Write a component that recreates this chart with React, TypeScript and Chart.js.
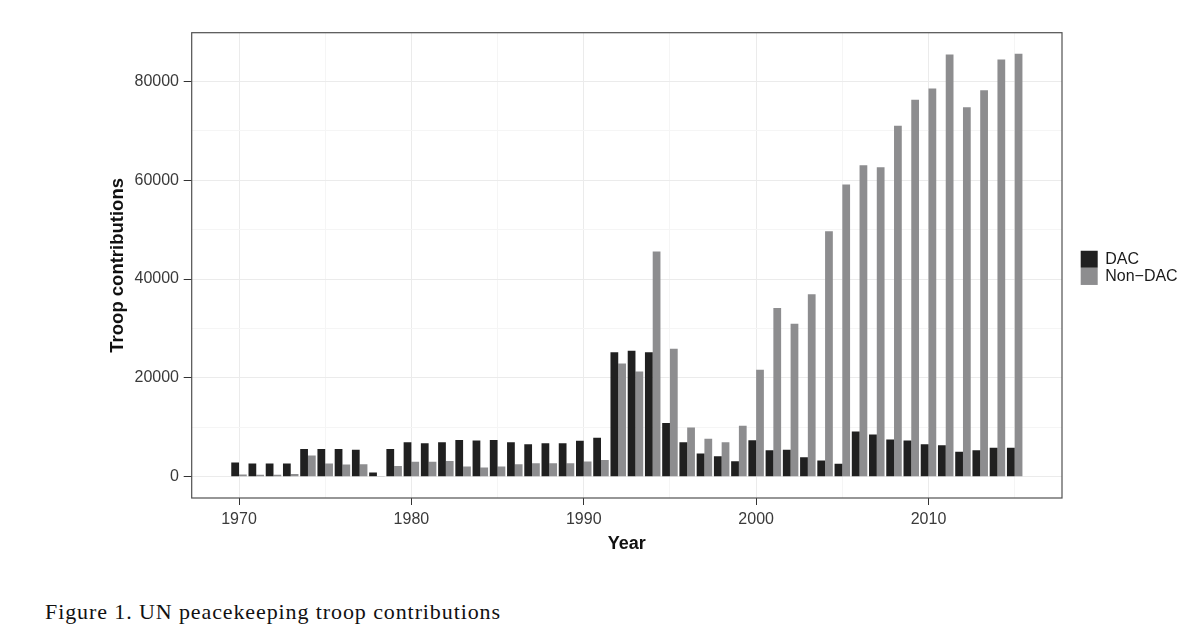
import React, { useEffect, useRef } from "react";
import { Chart, registerables } from "chart.js";

Chart.register(...registerables);

const years = [
  1970, 1971, 1972, 1973, 1974, 1975, 1976, 1977, 1978, 1979,
  1980, 1981, 1982, 1983, 1984, 1985, 1986, 1987, 1988, 1989,
  1990, 1991, 1992, 1993, 1994, 1995, 1996, 1997, 1998, 1999,
  2000, 2001, 2002, 2003, 2004, 2005, 2006, 2007, 2008, 2009,
  2010, 2011, 2012, 2013, 2014, 2015,
];

const dacTroops = [
  2900, 2700, 2700, 2700, 5650, 5650, 5650, 5500, 900, 5650,
  7000, 6800, 7000, 7450, 7350, 7450, 7000, 6600, 6800, 6800,
  7300, 7900, 25200, 25500, 25200, 10900, 7000, 4700, 4150, 3150,
  7400, 5400, 5500, 3950, 3300, 2650, 9150, 8550, 7550, 7350,
  6600, 6400, 5100, 5400, 5900, 5900,
];

const nonDacTroops = [
  500, 400, 400, 600, 4300, 2700, 2500, 2550, 150, 2200,
  3030, 3030, 3230, 2090, 1880, 2090, 2560, 2760, 2760, 2760,
  3100, 3400, 22900, 21300, 45600, 25900, 10000, 7700, 7000, 10350,
  21650, 34150, 30950, 36950, 49650, 59150, 63000, 62600, 71000, 76250,
  78550, 85400, 74750, 78200, 84400, 85550,
];

const seriesNames = ["DAC", "Non\u2212DAC"];
const seriesColors = ["#202020", "#8d8d8f"];

const xTickValues = [1970, 1975, 1980, 1985, 1990, 1995, 2000, 2005, 2010, 2015];
const xMajorTicks = [1970, 1980, 1990, 2000, 2010];
const yTickValues = [0, 10000, 20000, 30000, 40000, 50000, 60000, 70000, 80000];
const yMajorTicks = [0, 20000, 40000, 60000, 80000];

const xLimits = [1967.255, 2017.745];
const yLimits = [-4277.5, 89827.5];

const xTitle = "Year";
const yTitle = "Troop contributions";
const caption = "Figure 1. UN peacekeeping troop contributions";

const CANVAS_W = 1200;
const CANVAS_H = 560;

const framePlugin = {
  id: "panelFrame",
  afterDatasetsDraw(chart: any) {
    const { ctx, chartArea } = chart;
    ctx.save();
    ctx.strokeStyle = "#505050";
    ctx.lineWidth = 1.2;
    ctx.strokeRect(
      chartArea.left,
      chartArea.top,
      chartArea.right - chartArea.left,
      chartArea.bottom - chartArea.top
    );
    ctx.restore();
  },
};

const legendPlugin = {
  id: "sideLegend",
  afterDraw(chart: any) {
    const { ctx, chartArea } = chart;
    const cy = (chartArea.top + chartArea.bottom) / 2;
    const keyX = chartArea.right + 18.7;
    const key = 17;
    ctx.save();
    ctx.font = '16px "Liberation Sans", Arial, sans-serif';
    ctx.textBaseline = "middle";
    ctx.textAlign = "left";
    seriesNames.forEach((name, i) => {
      const top = cy - 14.6 + i * 17.2;
      ctx.fillStyle = seriesColors[i];
      ctx.fillRect(keyX, top, key, key);
      ctx.fillStyle = "#1a1a1a";
      ctx.fillText(name, keyX + key + 7.5, top + key / 2 + 0.5);
    });
    ctx.restore();
  },
};

export default function App() {
  const canvasRef = useRef<HTMLCanvasElement | null>(null);

  useEffect(() => {
    const canvas = canvasRef.current;
    if (!canvas) return;
    const chart = new Chart(canvas, {
      type: "bar",
      data: {
        datasets: [
          {
            label: seriesNames[0],
            data: years.map((yr, i) => ({ x: yr, y: dacTroops[i] })),
            backgroundColor: seriesColors[0],
            borderWidth: 0,
          },
          {
            label: seriesNames[1],
            data: years.map((yr, i) => ({ x: yr, y: nonDacTroops[i] })),
            backgroundColor: seriesColors[1],
            borderWidth: 0,
          },
        ],
      },
      options: {
        responsive: false,
        animation: false,
        events: [],
        categoryPercentage: 0.9,
        barPercentage: 1.0,
        layout: {
          padding: { top: 32.7, right: CANVAS_W - 1062, bottom: 0, left: 0 },
        },
        plugins: {
          legend: { display: false },
          tooltip: { enabled: false },
        },
        scales: {
          x: {
            type: "linear",
            min: xLimits[0],
            max: xLimits[1],
            offset: false,
            afterBuildTicks: (scale: any) => {
              scale.ticks = xTickValues.map((v) => ({ value: v }));
            },
            afterFit: (scale: any) => {
              scale.height = CANVAS_H - 498;
            },
            border: { display: false },
            grid: {
              offset: false,
              drawOnChartArea: true,
              drawTicks: true,
              tickLength: 7,
              lineWidth: 1,
              color: (ctx: any) =>
                ctx.tick && xMajorTicks.includes(ctx.tick.value) ? "#ebebeb" : "#f5f5f5",
              tickColor: (ctx: any) =>
                ctx.tick && xMajorTicks.includes(ctx.tick.value) ? "#333333" : "rgba(0,0,0,0)",
            },
            ticks: {
              autoSkip: false,
              maxRotation: 0,
              padding: 5.2,
              color: "#3a3a3a",
              font: { family: '"Liberation Sans", Arial, sans-serif', size: 16 },
              callback: (v: any) => (xMajorTicks.includes(Number(v)) ? String(v) : ""),
            },
            title: {
              display: true,
              text: xTitle,
              color: "#111111",
              padding: { top: 0, bottom: 5.5 },
              font: { family: '"Liberation Sans", Arial, sans-serif', size: 18, weight: "bold" },
            },
          },
          y: {
            type: "linear",
            min: yLimits[0],
            max: yLimits[1],
            afterBuildTicks: (scale: any) => {
              scale.ticks = yTickValues.map((v) => ({ value: v }));
            },
            afterFit: (scale: any) => {
              scale.width = 191.7;
            },
            border: { display: false },
            grid: {
              drawOnChartArea: true,
              drawTicks: true,
              tickLength: 8,
              lineWidth: 1,
              color: (ctx: any) =>
                ctx.tick && yMajorTicks.includes(ctx.tick.value) ? "#ebebeb" : "#f5f5f5",
              tickColor: (ctx: any) =>
                ctx.tick && yMajorTicks.includes(ctx.tick.value) ? "#333333" : "rgba(0,0,0,0)",
            },
            ticks: {
              autoSkip: false,
              padding: 4.7,
              color: "#3a3a3a",
              font: { family: '"Liberation Sans", Arial, sans-serif', size: 16 },
              callback: (v: any) => (yMajorTicks.includes(Number(v)) ? String(v) : ""),
            },
            title: {
              display: true,
              text: yTitle,
              color: "#111111",
              padding: { top: 107, bottom: 0 },
              font: { family: '"Liberation Sans", Arial, sans-serif', size: 18.5, weight: "bold" },
            },
          },
        },
      },
      plugins: [framePlugin, legendPlugin],
    } as any);
    return () => chart.destroy();
  }, []);

  return (
    <div
      style={{
        position: "absolute",
        left: 0,
        top: 0,
        width: 1200,
        height: 640,
        background: "#ffffff",
        overflow: "hidden",
      }}
    >
      <canvas
        ref={canvasRef}
        width={CANVAS_W}
        height={CANVAS_H}
        style={{ position: "absolute", left: 0, top: 0, width: CANVAS_W, height: CANVAS_H }}
      />
      <div
        style={{
          position: "absolute",
          left: 45,
          top: 600.5,
          fontFamily: '"Liberation Serif", "Times New Roman", serif',
          fontSize: 22,
          lineHeight: "22px",
          letterSpacing: "0.9px",
          color: "#111111",
          whiteSpace: "nowrap",
        }}
      >
        {caption}
      </div>
    </div>
  );
}
